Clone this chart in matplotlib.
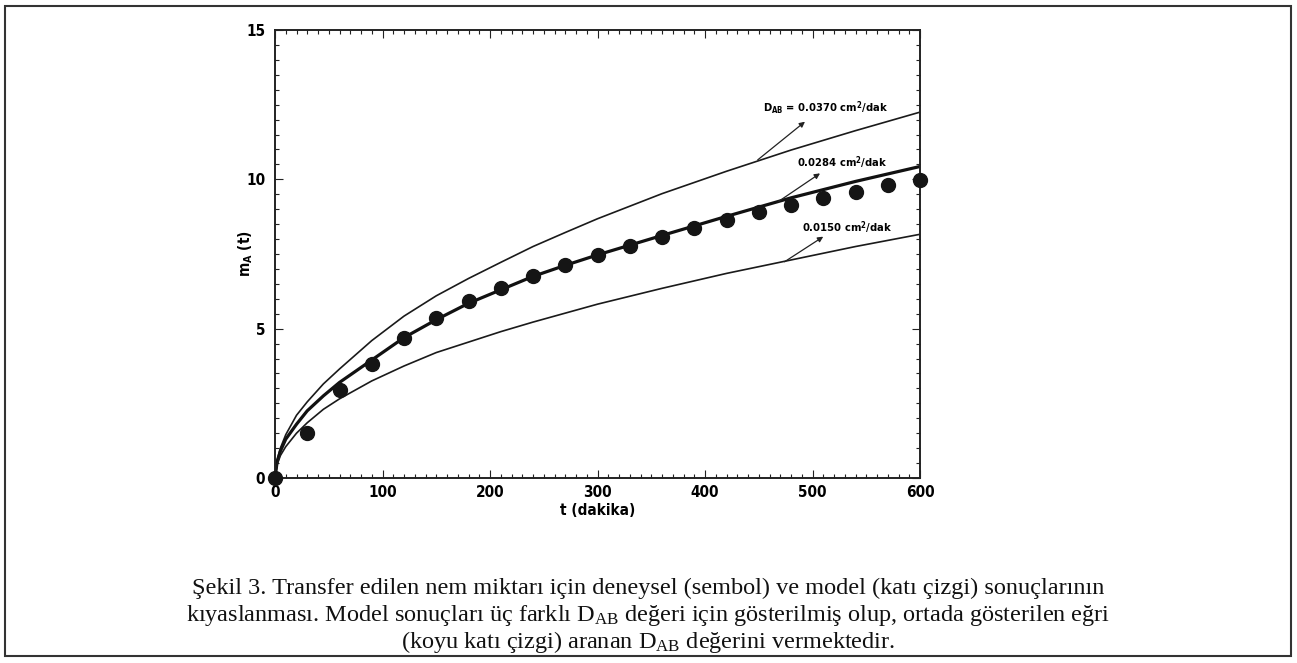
import matplotlib
matplotlib.use("Agg")
import matplotlib.pyplot as plt
from matplotlib.patches import Rectangle
from matplotlib.ticker import MultipleLocator

# ---- data ----
t_exp = [0, 30, 60, 90, 120, 150, 180, 210, 240, 270, 300, 330, 360, 390,
         420, 450, 480, 510, 540, 570, 600]
m_exp = [0.0, 1.49, 2.95, 3.82, 4.70, 5.37, 5.92, 6.35, 6.78, 7.14, 7.48,
         7.77, 8.07, 8.37, 8.63, 8.92, 9.14, 9.37, 9.57, 9.80, 9.97]

t_model = [0, 2, 5, 10, 20, 30, 45, 60, 90, 120, 150, 180, 210, 240, 270,
           300, 360, 420, 480, 540, 600]
m_high = [0.0, 0.60, 1.00, 1.45, 2.10, 2.55, 3.15, 3.65, 4.60, 5.42, 6.10,
          6.68, 7.22, 7.75, 8.22, 8.68, 9.52, 10.27, 10.98, 11.63, 12.25]
m_mid = [0.0, 0.55, 0.90, 1.30, 1.80, 2.25, 2.75, 3.20, 3.95, 4.70, 5.30,
         5.85, 6.30, 6.75, 7.12, 7.47, 8.12, 8.76, 9.38, 9.93, 10.43]
m_low = [0.0, 0.45, 0.75, 1.05, 1.50, 1.85, 2.30, 2.65, 3.25, 3.75, 4.20,
         4.55, 4.90, 5.22, 5.52, 5.82, 6.35, 6.85, 7.30, 7.75, 8.16]

x_ticks = [0, 100, 200, 300, 400, 500, 600]
y_ticks = [0, 5, 10, 15]
labels_D = [r"D$_{\mathregular{AB}}$ = 0.0370 cm$^{\mathregular{2}}$/dak",
            r"0.0284 cm$^{\mathregular{2}}$/dak",
            r"0.0150 cm$^{\mathregular{2}}$/dak"]

caption = [
    "Şekil 3. Transfer edilen nem miktarı için deneysel (sembol) ve model (katı çizgi) sonuçlarının",
    r"kıyaslanması. Model sonuçları üç farklı D$_{\mathregular{AB}}$ değeri için gösterilmiş olup, ortada gösterilen eğri",
    r"(koyu katı çizgi) aranan D$_{\mathregular{AB}}$ değerini vermektedir.",
]

# ---- style ----
plt.rcParams["mathtext.fontset"] = "custom"
plt.rcParams["mathtext.rm"] = "Liberation Serif"
plt.rcParams["mathtext.it"] = "Liberation Serif:italic"
plt.rcParams["mathtext.bf"] = "Liberation Serif:bold"
sans = ["DejaVu Sans"]
tick_kw = dict(family=sans, fontweight="bold", fontstretch="condensed")

W, H = 1297, 663
fig = plt.figure(figsize=(W / 100, H / 100), dpi=100)
fig.patch.set_facecolor("white")

ax = fig.add_axes([275 / W, 1 - 478 / H, 645 / W, 448 / H])

ax.plot(t_model, m_high, color="#1a1a1a", lw=1.2)
ax.plot(t_model, m_mid, color="#111111", lw=2.3)
ax.plot(t_model, m_low, color="#1a1a1a", lw=1.2)
ax.plot(t_exp, m_exp, "o", color="#151515", ms=10, clip_on=False, zorder=5)

ax.set_xlim(0, 600)
ax.set_ylim(0, 15)
ax.set_xticks(x_ticks)
ax.set_yticks(y_ticks)
ax.xaxis.set_minor_locator(MultipleLocator(10))
ax.yaxis.set_minor_locator(MultipleLocator(0.5))
ax.tick_params(which="both", direction="in", top=True, right=True,
               color="#222222", width=0.8)
ax.tick_params(which="major", length=6, labelsize=11)
ax.tick_params(axis="x", which="major", pad=5)
ax.tick_params(axis="y", which="major", pad=7)
ax.tick_params(which="minor", length=3)
for lab in ax.get_xticklabels() + ax.get_yticklabels():
    lab.set_family(sans)
    lab.set_fontweight("bold")
    lab.set_fontstretch("condensed")
for s in ax.spines.values():
    s.set_linewidth(1.4)
    s.set_color("#222222")

ax.set_xlabel("t (dakika)", fontsize=11, labelpad=2, **tick_kw)
ax.set_ylabel(r"m$_{\mathregular{A}}$ (t)", fontsize=11, **tick_kw)
ax.yaxis.set_label_coords(-0.031, 0.5)

# annotations (text + arrows)
arrow_kw = dict(arrowstyle="-|>", lw=0.9, color="#222222",
                mutation_scale=8, shrinkA=0, shrinkB=0)
ax.text(512, 12.38, labels_D[0], fontsize=8, ha="center", va="center",
        **tick_kw)
ax.annotate("", xy=(493, 11.93), xytext=(449, 10.65), arrowprops=arrow_kw)
ax.text(528, 10.56, labels_D[1], fontsize=8, ha="center", va="center",
        **tick_kw)
ax.annotate("", xy=(507, 10.2), xytext=(468, 9.25), arrowprops=arrow_kw)
ax.text(532, 8.39, labels_D[2], fontsize=8, ha="center", va="center",
        **tick_kw)
ax.annotate("", xy=(510, 8.08), xytext=(474, 7.24), arrowprops=arrow_kw)

# caption
cy = [588, 615, 642]
for line, y in zip(caption, cy):
    fig.text(0.5, 1 - y / H, line, ha="center", va="center",
             family="Liberation Serif", fontsize=17.5, color="#111111")

# outer frame
fig.patches.append(Rectangle((5 / W, 1 - 656 / H), (1291 - 5) / W,
                             (656 - 6) / H, transform=fig.transFigure,
                             fill=False, edgecolor="#333333", lw=1.5))

fig.savefig("out.png", dpi=100, facecolor="white")
